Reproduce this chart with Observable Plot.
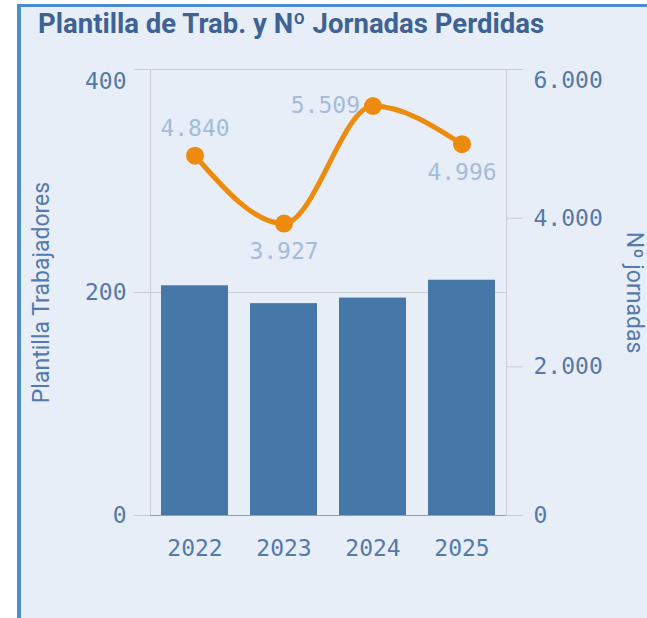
<!DOCTYPE html>
<html><head><meta charset="utf-8">
<script src="https://cdn.jsdelivr.net/npm/d3@7"></script>
<script src="https://cdn.jsdelivr.net/npm/@observablehq/plot@0.6"></script>
<style>
body{margin:0;background:#fff;width:647px;height:618px;overflow:hidden;position:relative;}
#panel{position:absolute;left:17px;top:4px;width:700px;height:700px;background:#e8eef7;border-left:4px solid #4a8ccd;border-top:3px solid #4a8ccd;}
#title{position:absolute;left:38px;top:7px;font:700 27.5px Roboto;color:#3e6293;white-space:nowrap;}
#chart{position:absolute;left:0;top:55px;}
</style></head><body>
<div id="panel"></div>
<div id="title">Plantilla de Trab. y Nº Jornadas Perdidas</div>
<div id="chart"></div>
<script>
const years = ["2022", "2023", "2024", "2025"];
const plantilla = [206, 190, 195, 211];
const jornadas = [4840, 3927, 5509, 4996];
const leftTicks = [0, 200, 400];
const rightTicks = [0, 2000, 4000, 6000];
const leftTitle = "Plantilla Trabajadores";
const rightTitle = "Nº jornadas";

const data = years.map((year, i) => ({year, plantilla: plantilla[i], jornadas: jornadas[i]}));
const topL = d3.max(leftTicks), topR = d3.max(rightTicks);
const ratio = topL / topR;
const fmt = d3.formatLocale({decimal: ",", thousands: ".", grouping: [3], currency: ["", "€"]}).format(",.0f");

const labelAbove = ["2022"], labelLeft = ["2024"];
const orange = "#ec8b0d", bar = "#4577a9", labCol = "#a3bcdb", grid = "#c8ccd1";

const chart = Plot.plot({
  width: 647, height: 563,
  marginTop: 14, marginBottom: 103, marginLeft: 150, marginRight: 141,
  style: {background: "transparent", fontFamily: "'DejaVu Sans Mono'", fontSize: "23px", color: "#5479ab", overflow: "visible"},
  x: {domain: years, paddingInner: 0.25, paddingOuter: 0.125, axis: null, label: null},
  y: {domain: [0, topL], axis: null, label: null},
  marks: [
    Plot.gridY(leftTicks.filter(d => d > 0 && d < topL), {stroke: grid, strokeOpacity: 1}),
    Plot.frame({stroke: grid}),
    Plot.axisY(leftTicks, {anchor: "left", tickSize: 16, tickFormat: () => "", stroke: grid, label: null}),
    Plot.axisY(rightTicks.map(d => d * ratio), {anchor: "right", tickSize: 16, tickFormat: () => "", stroke: grid, label: null}),
    Plot.barY(data, {x: "year", y: "plantilla", fill: bar}),
    Plot.ruleY([0], {stroke: "#9a9ea3"}),
    Plot.line(data, {x: "year", y: d => d.jornadas * ratio, curve: "monotone-x", stroke: orange, strokeWidth: 5}),
    Plot.dot(data, {x: "year", y: d => d.jornadas * ratio, r: 9, fill: orange}),
    // value labels
    Plot.text(data.filter(d => labelAbove.includes(d.year)), {x: "year", y: d => d.jornadas * ratio, text: d => fmt(d.jornadas), dy: -27, fill: labCol}),
    Plot.text(data.filter(d => labelLeft.includes(d.year)), {x: "year", y: d => d.jornadas * ratio, text: d => fmt(d.jornadas), dx: -13, textAnchor: "end", fill: labCol}),
    Plot.text(data.filter(d => !labelAbove.includes(d.year) && !labelLeft.includes(d.year)), {x: "year", y: d => d.jornadas * ratio, text: d => fmt(d.jornadas), dy: 28, fill: labCol}),
    // left tick labels
    Plot.text(leftTicks.filter(d => d < topL), {y: d => d, text: d => fmt(d), frameAnchor: "left", dx: -24, textAnchor: "end"}),
    Plot.text([topL], {y: d => d, text: d => fmt(d), frameAnchor: "left", dx: -24, dy: 12, textAnchor: "end"}),
    // right tick labels
    Plot.text(rightTicks.filter(d => d < topR), {y: d => d * ratio, text: d => fmt(d), frameAnchor: "right", dx: 27, textAnchor: "start"}),
    Plot.text([topR], {y: d => d * ratio, text: d => fmt(d), frameAnchor: "right", dx: 27, dy: 11, textAnchor: "start"}),
    // x labels
    Plot.text(years, {x: d => d, text: d => d, frameAnchor: "bottom", dy: 40}),
    // axis titles
    Plot.text([leftTitle], {text: d => d, frameAnchor: "left", dx: -109, rotate: -90, textAnchor: "middle", fontFamily: "Roboto", fontSize: 23}),
    Plot.text([rightTitle], {text: d => d, frameAnchor: "right", dx: 128, rotate: 90, textAnchor: "middle", fontFamily: "Roboto", fontSize: 23})
  ]
});
document.getElementById("chart").append(chart);
</script></body></html>
